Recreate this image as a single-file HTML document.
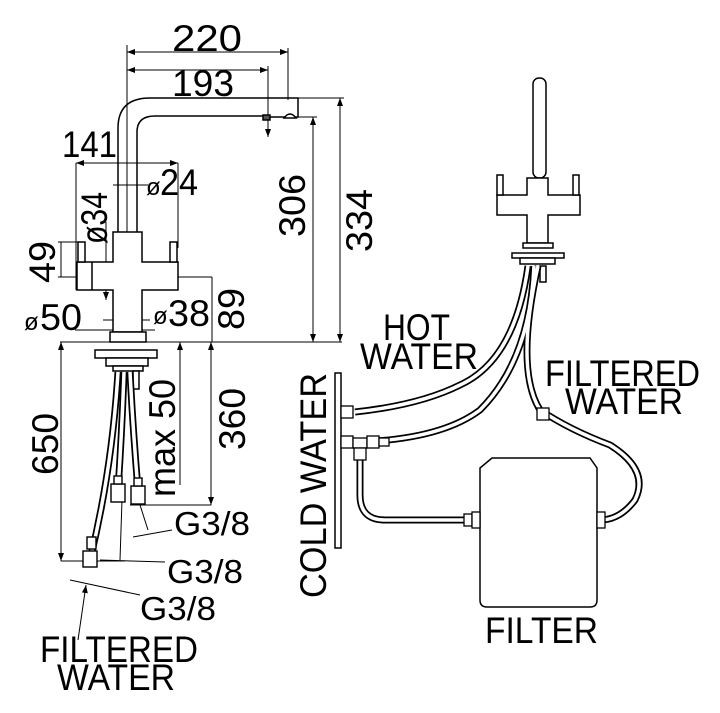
<!DOCTYPE html>
<html><head><meta charset="utf-8"><style>
html,body{margin:0;padding:0;background:#fff}
svg{display:block}
text{font-family:"Liberation Sans",sans-serif;fill:#000}
</style></head><body>
<svg width="720" height="713" viewBox="0 0 720 713" xmlns="http://www.w3.org/2000/svg">
<defs>
<marker id="a" markerWidth="8" markerHeight="6" refX="8" refY="3" orient="auto-start-reverse" markerUnits="userSpaceOnUse"><path d="M0,0 L8,3 L0,6 z" fill="#000"/></marker>
</defs>
<g stroke="#000" fill="none" stroke-width="1">
<line x1="127" y1="52" x2="288" y2="52" marker-start="url(#a)" marker-end="url(#a)"/>
<line x1="127" y1="70" x2="268" y2="70" marker-start="url(#a)" marker-end="url(#a)"/>
<line x1="127" y1="45" x2="127" y2="340"/>
<line x1="288" y1="48" x2="288" y2="100"/>
<line x1="268" y1="66" x2="268" y2="137" marker-end="url(#a)"/>
<line x1="298" y1="98" x2="344" y2="98"/>
<line x1="298" y1="117" x2="317" y2="117"/>
<line x1="313" y1="117" x2="313" y2="342" marker-start="url(#a)" marker-end="url(#a)"/>
<line x1="340" y1="98" x2="340" y2="342" marker-start="url(#a)" marker-end="url(#a)"/>
<line x1="60" y1="342" x2="342" y2="342"/>
<line x1="76" y1="163" x2="178" y2="163" marker-start="url(#a)" marker-end="url(#a)"/>
<line x1="76" y1="163" x2="76" y2="290"/>
<line x1="178" y1="163" x2="178" y2="248"/>
<line x1="113" y1="185" x2="148" y2="185"/>
<line x1="106" y1="222" x2="106" y2="300" marker-end="url(#a)"/>
<line x1="61" y1="242" x2="61" y2="277"/>
<line x1="58" y1="242" x2="80" y2="242"/>
<line x1="58" y1="277" x2="80" y2="277"/>
<line x1="178" y1="277" x2="212" y2="277"/>
<line x1="212" y1="277" x2="212" y2="342"/>
<line x1="103" y1="320" x2="150" y2="320"/>
<line x1="75" y1="330" x2="155" y2="330"/>
<line x1="61" y1="342" x2="61" y2="561" marker-start="url(#a)" marker-end="url(#a)"/>
<line x1="61" y1="561" x2="125" y2="561"/>
<line x1="180" y1="342" x2="180" y2="485" marker-start="url(#a)"/>
<line x1="211" y1="342" x2="211" y2="505" marker-start="url(#a)" marker-end="url(#a)"/>
<line x1="130" y1="505" x2="211" y2="505"/>
<line x1="133" y1="537" x2="172" y2="530"/>
<line x1="100" y1="560" x2="165" y2="562"/>
<line x1="70" y1="580" x2="140" y2="595"/>
<line x1="78" y1="640" x2="86" y2="585" marker-end="url(#a)"/>
<line x1="122" y1="500" x2="120" y2="560"/>
<line x1="140" y1="505" x2="148" y2="530"/>
</g>
<g stroke="#000" fill="#fff" stroke-width="1.5">
<path d="M118,232 V128 Q118,98 150,98 H298 V117 H268 M137,232 V132 Q137,116 155,116 H268" fill="none"/>
<path d="M284,118 Q290,110 296,118 Z"/>
<rect x="263" y="115" width="7" height="5" fill="#555"/>
<path d="M113,232 H142 V262 H178 V290 H142 V332 H113 V290 H77 V262 H113 Z"/>
<rect x="78" y="242" width="7" height="20"/>
<rect x="170" y="242" width="7" height="20"/>
<line x1="92" y1="262" x2="92" y2="290"/>
<rect x="110" y="332" width="36" height="10"/>
<rect x="95" y="350" width="62" height="8"/>
<rect x="106" y="358" width="42" height="8"/>
<rect x="113" y="366" width="30" height="5"/>
<rect x="133" y="371" width="6" height="18"/>
</g>
<g fill="none">
<path d="M118,372 Q112,470 90,560" stroke="#000" stroke-width="7"/>
<path d="M118,372 Q112,470 90,560" stroke="#fff" stroke-width="3.5"/>
<path d="M124,372 Q122,430 118,490" stroke="#000" stroke-width="7"/>
<path d="M124,372 Q122,430 118,490" stroke="#fff" stroke-width="3.5"/>
<path d="M130,372 Q133,430 138,490" stroke="#000" stroke-width="7"/>
<path d="M130,372 Q133,430 138,490" stroke="#fff" stroke-width="3.5"/>
</g>
<g stroke="#000" fill="#fff" stroke-width="1.4">
<rect x="111" y="484" width="14" height="18"/>
<rect x="114" y="476" width="8" height="8"/>
<rect x="131" y="486" width="14" height="18"/>
<rect x="134" y="478" width="8" height="8"/>
<rect x="83" y="551" width="14" height="16"/>
<rect x="87" y="537" width="9" height="12"/>
</g>
<g stroke="#000" fill="#fff" stroke-width="1.5">
<rect x="533" y="78" width="13" height="100" rx="6"/>
<path d="M527,178 H548 V195 H580 V215 H548 V243 H527 V215 H497 V195 H527 Z"/>
<rect x="497" y="175" width="6" height="20"/>
<rect x="573" y="175" width="6" height="20"/>
<rect x="523" y="243" width="30" height="5"/>
<rect x="512" y="253" width="52" height="5"/>
<rect x="520" y="258" width="35" height="6"/>
<rect x="540" y="266" width="6" height="16"/>
<rect x="335" y="373" width="6" height="175"/>
<path d="M492,458 H590 L597,468 V600 Q597,607 590,607 H487 Q480,607 480,600 V468 Z"/>
</g>
<g fill="none">
<g stroke="#000" stroke-width="7">
<path d="M528,266 Q515,360 460,385 Q420,405 355,412"/>
<path d="M534,266 Q530,360 480,410 Q440,440 355,442"/>
<path d="M538,266 Q515,370 540,410 Q570,430 610,445 Q650,470 635,500 Q620,520 600,520"/>
<path d="M360,448 V495 Q360,520 385,520 H480"/>
</g>
<g stroke="#fff" stroke-width="3.5">
<path d="M528,266 Q515,360 460,385 Q420,405 355,412"/>
<path d="M534,266 Q530,360 480,410 Q440,440 355,442"/>
<path d="M538,266 Q515,370 540,410 Q570,430 610,445 Q650,470 635,500 Q620,520 600,520"/>
<path d="M360,448 V495 Q360,520 385,520 H480"/>
</g>
</g>
<g stroke="#000" fill="#fff" stroke-width="1.3">
<rect x="341" y="406" width="12" height="12"/>
<rect x="341" y="436" width="12" height="12"/>
<rect x="353" y="438" width="14" height="10"/>
<rect x="367" y="436" width="12" height="12"/>
<rect x="379" y="438" width="10" height="8"/>
<rect x="354" y="448" width="12" height="12"/>
<rect x="537" y="408" width="12" height="12"/>
<rect x="464" y="514" width="8" height="12"/>
<rect x="472" y="512" width="8" height="16"/>
<rect x="597" y="512" width="8" height="16"/>
</g>
<g font-size="37">
<text x="172" y="51" textLength="70" lengthAdjust="spacingAndGlyphs">220</text>
<text x="172" y="96" textLength="62" lengthAdjust="spacingAndGlyphs">193</text>
<text x="62" y="157" textLength="55" lengthAdjust="spacingAndGlyphs">141</text>
<text x="160" y="195" textLength="38" lengthAdjust="spacingAndGlyphs">24</text>
<text x="146" y="195" font-size="24">ø</text>
<text x="24" y="330" font-size="24">ø</text>
<text x="40" y="330" textLength="42" lengthAdjust="spacingAndGlyphs">50</text>
<text x="153" y="324" font-size="24">ø</text>
<text x="168" y="326" textLength="42" lengthAdjust="spacingAndGlyphs">38</text>
<text transform="translate(107,244) rotate(-90)" textLength="52" lengthAdjust="spacingAndGlyphs">ø34</text>
<text transform="translate(55,283) rotate(-90)" textLength="42" lengthAdjust="spacingAndGlyphs">49</text>
<text transform="translate(244,330) rotate(-90)" textLength="42" lengthAdjust="spacingAndGlyphs">89</text>
<text transform="translate(305,237) rotate(-90)" textLength="63" lengthAdjust="spacingAndGlyphs">306</text>
<text transform="translate(372,252) rotate(-90)" textLength="63" lengthAdjust="spacingAndGlyphs">334</text>
<text transform="translate(58,475) rotate(-90)" textLength="62" lengthAdjust="spacingAndGlyphs">650</text>
<text transform="translate(175,497) rotate(-90)" textLength="118" lengthAdjust="spacingAndGlyphs">max 50</text>
<text transform="translate(245,450) rotate(-90)" textLength="62" lengthAdjust="spacingAndGlyphs">360</text>
<text x="174" y="535" font-size="33" textLength="76" lengthAdjust="spacingAndGlyphs">G3/8</text>
<text x="167" y="583" font-size="33" textLength="76" lengthAdjust="spacingAndGlyphs">G3/8</text>
<text x="140" y="620" font-size="33" textLength="76" lengthAdjust="spacingAndGlyphs">G3/8</text>
<text x="40" y="662" textLength="158" lengthAdjust="spacingAndGlyphs">FILTERED</text>
<text x="57" y="690" textLength="118" lengthAdjust="spacingAndGlyphs">WATER</text>
<text x="383" y="340" textLength="67" lengthAdjust="spacingAndGlyphs">HOT</text>
<text x="360" y="369" textLength="118" lengthAdjust="spacingAndGlyphs">WATER</text>
<text x="545" y="386" textLength="155" lengthAdjust="spacingAndGlyphs">FILTERED</text>
<text x="565" y="414" textLength="118" lengthAdjust="spacingAndGlyphs">WATER</text>
<text transform="translate(326,598) rotate(-90)" textLength="225" lengthAdjust="spacingAndGlyphs">COLD WATER</text>
<text x="485" y="643" textLength="113" lengthAdjust="spacingAndGlyphs">FILTER</text>
</g>
</svg>
</body></html>
